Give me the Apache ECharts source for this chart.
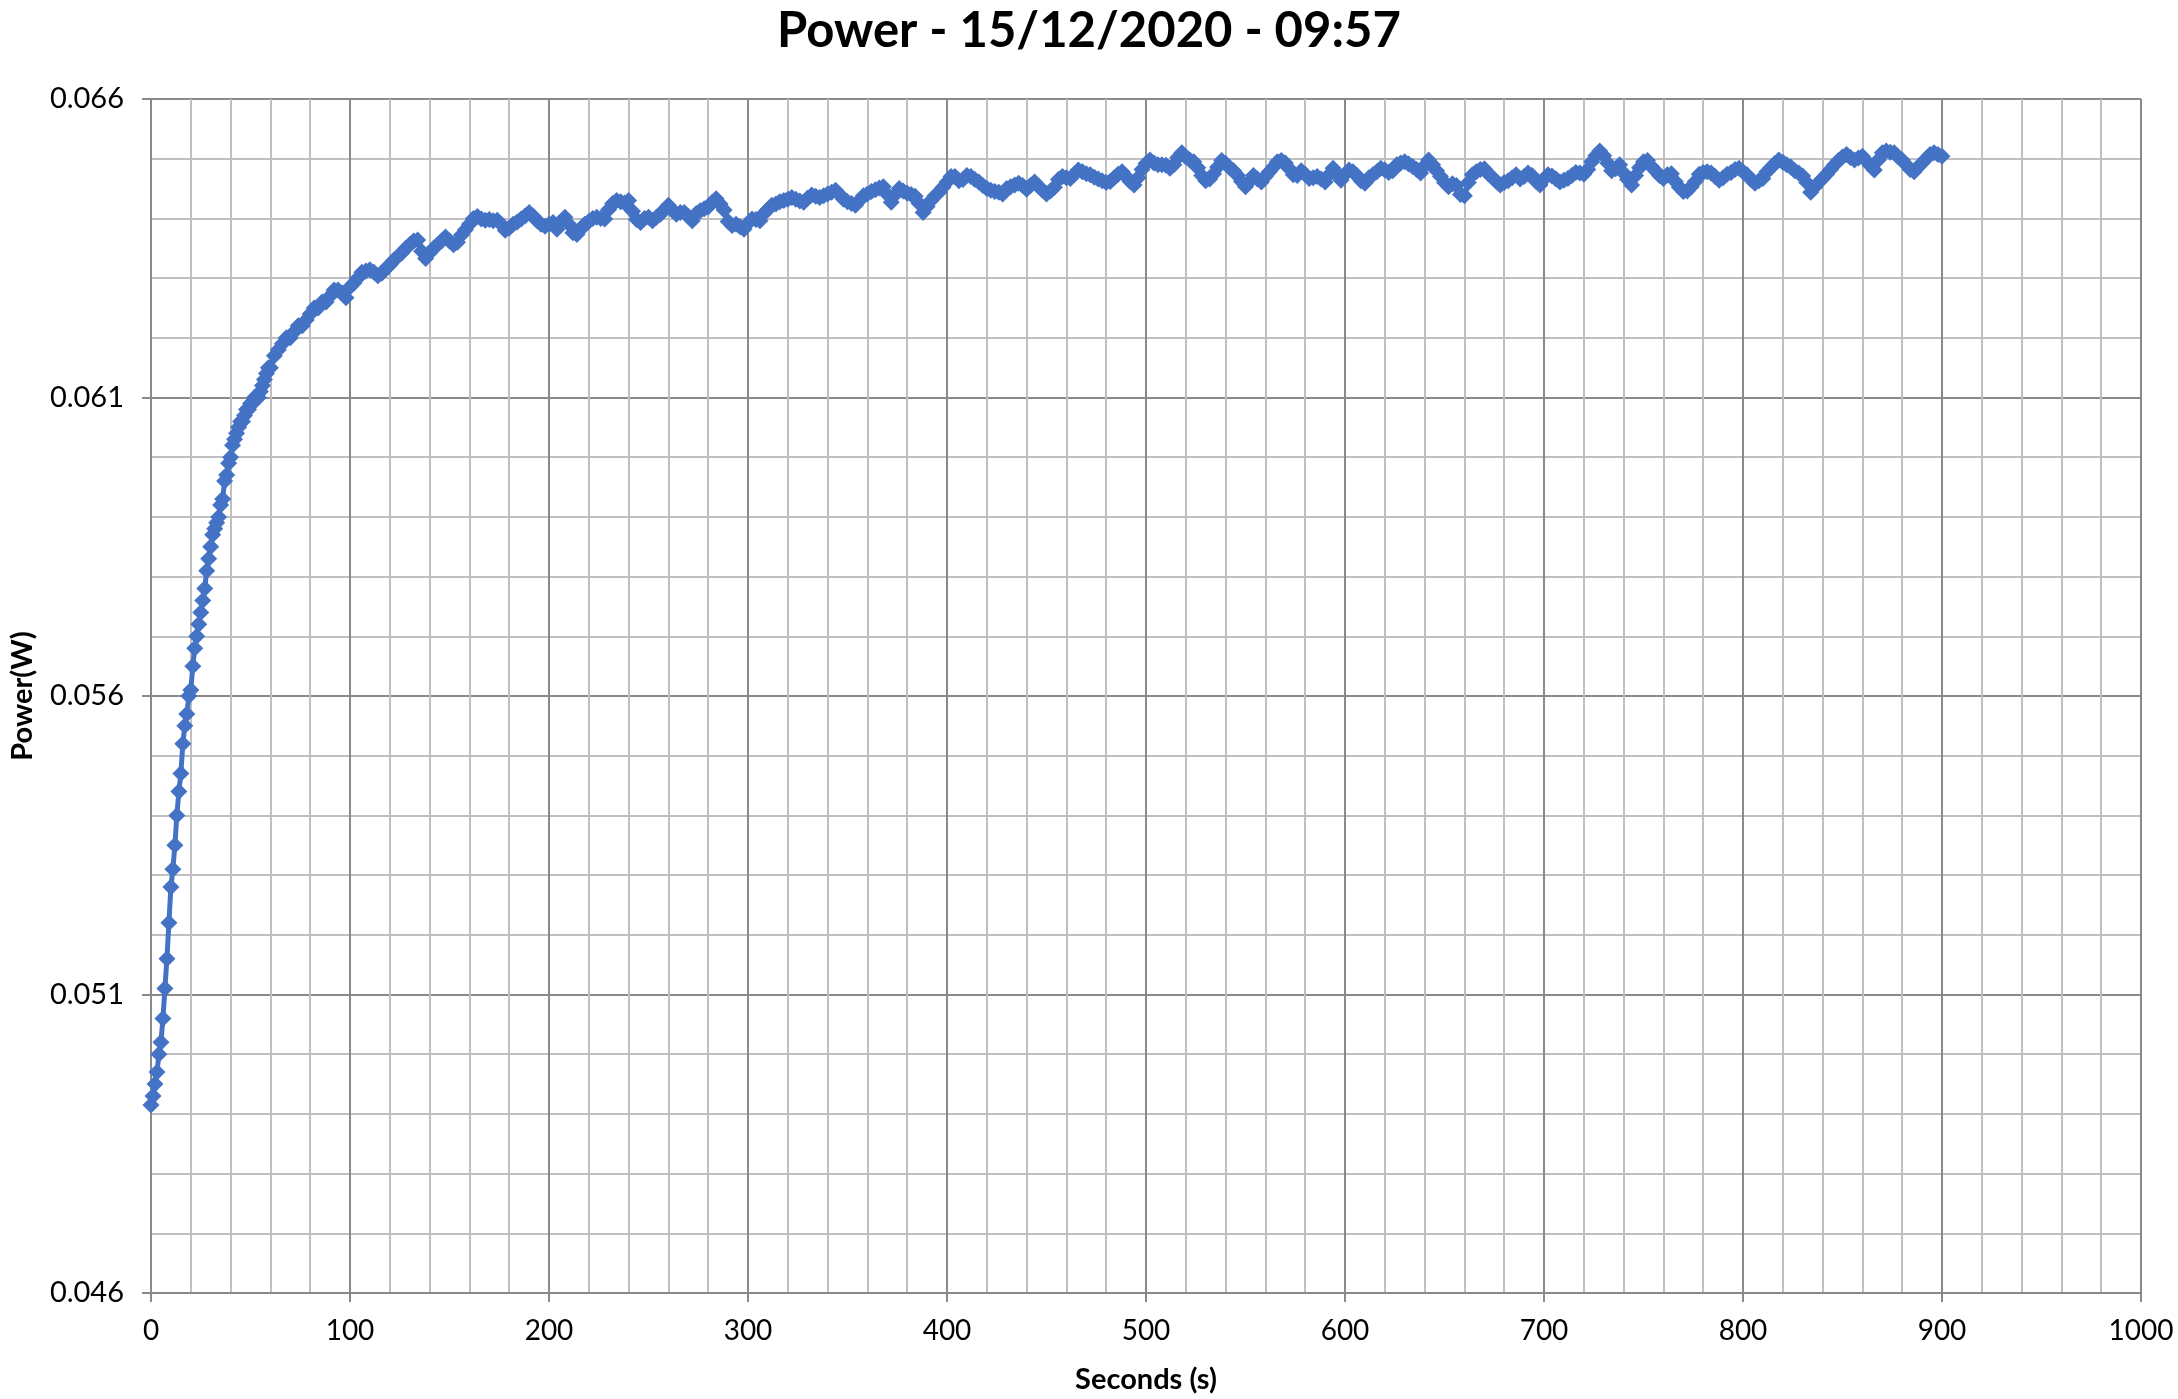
<!DOCTYPE html>
<html>
<head>
<meta charset="utf-8">
<script src="https://cdn.jsdelivr.net/npm/echarts@6/dist/echarts.min.js"></script>
<style>
html,body{margin:0;padding:0;background:#fff;}
#chart{width:2178px;height:1399px;}
</style>
</head>
<body>
<div id="chart"></div>
<script>
const titleText = "Power - 15/12/2020 - 09:57";
const xAxisName = "Seconds (s)";
const yAxisName = "Power(W)";
const xTicks = [0, 100, 200, 300, 400, 500, 600, 700, 800, 900, 1000];
const yTicks = [0.046, 0.051, 0.056, 0.061, 0.066];

// Samples 0..59 s, one per second
const powerFirstMinute = [
0.04915,0.0493,0.0495,0.0497,0.0500,0.0502,0.0506,0.0511,0.0516,0.0522,
0.0528,0.0531,0.0535,0.0540,0.0544,0.0547,0.0552,0.0555,0.0557,0.0560,
0.0561,0.0565,0.0568,0.0570,0.0572,0.0574,0.0576,0.0578,0.0581,0.0583,
0.0585,0.0587,0.0588,0.0589,0.0590,0.0592,0.0593,0.0596,0.0597,0.0599,
0.0600,0.0602,0.0603,0.0604,0.0605,0.0606,0.0606,0.0607,0.0608,0.0608,
0.0609,0.0609,0.0610,0.0610,0.0610,0.0611,0.0612,0.0613,0.0614,0.0615
];
// Samples 60..900 s, one every 2 s
const powerAfter = [
0.0615,0.0617,0.0618,0.0619,0.0620,0.0620,0.0621,0.0622,0.0622,0.0623,
0.0624,0.0625,0.0625,0.0626,0.0626,0.0627,0.0628,0.0628,0.06275,0.06267,
0.06285,0.06292,0.06300,0.06310,0.06312,0.06314,0.06310,0.06304,0.06308,0.06316,
0.06322,0.06330,0.06336,0.06342,0.06350,0.06356,0.06362,0.06364,0.06345,0.06333,
0.06342,0.06350,0.06356,0.06362,0.06369,0.06362,0.06356,0.06360,0.06372,0.06381,
0.06390,0.06400,0.06403,0.06399,0.06397,0.06398,0.06396,0.06397,0.06390,0.06380,
0.06384,0.06390,0.06394,0.06399,0.06404,0.06410,0.06404,0.06396,0.06390,0.06387,
0.06390,0.06393,0.06382,0.06395,0.06402,0.06390,0.06376,0.06373,0.06382,0.06390,
0.06395,0.06400,0.06402,0.06400,0.06399,0.06415,0.06425,0.06430,0.06428,0.06426,
0.06430,0.06412,0.06398,0.06393,0.06400,0.06402,0.06396,0.06402,0.06407,0.06415,
0.06422,0.06414,0.06407,0.06410,0.06410,0.06403,0.06396,0.06408,0.06413,0.06416,
0.06419,0.06427,0.06433,0.06424,0.06414,0.06395,0.06388,0.06390,0.06386,0.06382,
0.06392,0.06399,0.06398,0.06396,0.06408,0.06415,0.06422,0.06424,0.06428,0.06430,
0.06432,0.06435,0.06432,0.06429,0.06427,0.06434,0.06439,0.06437,0.06435,0.06438,
0.06441,0.06444,0.06447,0.06440,0.06432,0.06428,0.06425,0.06422,0.06430,0.06438,
0.06441,0.06445,0.06448,0.06451,0.06453,0.06440,0.06427,0.06440,0.06450,0.06446,
0.06442,0.06440,0.06437,0.06425,0.06410,0.06420,0.06430,0.06438,0.06444,0.06452,
0.06461,0.06470,0.06470,0.06463,0.06465,0.06472,0.06470,0.06465,0.06461,0.06455,
0.06450,0.06447,0.06445,0.06444,0.06441,0.06450,0.06453,0.06456,0.06459,0.06455,
0.06449,0.06455,0.06461,0.06454,0.06447,0.06441,0.06446,0.06452,0.06465,0.06470,
0.06468,0.06467,0.06474,0.06481,0.06478,0.06475,0.06473,0.06469,0.06466,0.06463,
0.06460,0.06462,0.06468,0.06474,0.06478,0.06470,0.06462,0.06456,0.06468,0.06482,
0.06492,0.06498,0.06493,0.06490,0.06490,0.06489,0.06484,0.06490,0.06502,0.06510,
0.06503,0.06498,0.06495,0.06485,0.06472,0.06463,0.06466,0.06475,0.06486,0.06497,
0.06492,0.06485,0.06480,0.06472,0.06462,0.06453,0.06462,0.06472,0.06466,0.06461,
0.06470,0.06478,0.06486,0.06495,0.06497,0.06493,0.06483,0.06473,0.06472,0.06480,
0.06474,0.06467,0.06468,0.06470,0.06466,0.06461,0.06473,0.06484,0.06474,0.06464,
0.06474,0.06481,0.06478,0.06472,0.06463,0.06459,0.06468,0.06473,0.06478,0.06484,
0.06481,0.06477,0.06480,0.06490,0.06493,0.06495,0.06491,0.06487,0.06482,0.06476,
0.06488,0.06498,0.06490,0.06480,0.06470,0.06460,0.06453,0.06458,0.06455,0.06440,
0.06438,0.06460,0.06473,0.06478,0.06482,0.06483,0.06475,0.06469,0.06462,0.06456,
0.06460,0.06463,0.06468,0.06473,0.06466,0.06470,0.06476,0.06472,0.06462,0.06456,
0.06466,0.06473,0.06471,0.06466,0.06461,0.06464,0.06467,0.06472,0.06477,0.06476,
0.06474,0.06482,0.06495,0.06505,0.06513,0.06505,0.06493,0.06480,0.06483,0.06490,
0.06476,0.06465,0.06456,0.06472,0.06485,0.06495,0.06497,0.06487,0.06480,0.06472,
0.06467,0.06473,0.06475,0.06462,0.06452,0.06445,0.06446,0.06453,0.06462,0.06474,
0.06477,0.06478,0.06476,0.06470,0.06464,0.06468,0.06474,0.06477,0.06482,0.06484,
0.06478,0.06473,0.06465,0.06459,0.06463,0.06467,0.06478,0.06485,0.06492,0.06498,
0.06494,0.06490,0.06486,0.06480,0.06476,0.06471,0.06460,0.06444,0.06452,0.06460,
0.06467,0.06474,0.06482,0.06490,0.06497,0.06503,0.06507,0.06502,0.06498,0.06501,
0.06504,0.06496,0.06488,0.06481,0.06498,0.06510,0.06513,0.06511,0.06510,0.06503,
0.06498,0.06490,0.06482,0.06478,0.06486,0.06493,0.06500,0.06507,0.06510,0.06507,
0.06504
];
const earlyStep = 1, earlyStart = 0;
const laterStep = 2, laterStart = 60;

const seriesData = [];
powerFirstMinute.forEach((v, i) => seriesData.push([earlyStart + i * earlyStep, v]));
powerAfter.forEach((v, i) => seriesData.push([laterStart + i * laterStep, v]));

const FONT = 'Lato, "Open Sans", sans-serif';
const MAJOR = '#8a8a8a';
const MINOR = '#bfbfbf';

const chart = echarts.init(document.getElementById('chart'), null, {renderer: 'canvas'});
chart.setOption({
  animation: false,
  backgroundColor: '#ffffff',
  title: {
    text: titleText,
    left: 'center',
    top: 2,
    textStyle: {fontFamily: FONT, fontSize: 49, fontWeight: 'bold', color: '#000'}
  },
  grid: {left: 145, top: 99, width: 1996, height: 1195, containLabel: false},
  xAxis: {
    type: 'value',
    min: xTicks[0], max: xTicks[xTicks.length - 1],
    interval: xTicks[1] - xTicks[0],
    name: xAxisName,
    nameLocation: 'middle',
    nameGap: 72,
    nameTextStyle: {fontFamily: FONT, fontSize: 29, fontWeight: 'bold', color: '#000'},
    axisLine: {show: true, lineStyle: {color: MAJOR, width: 2}},
    axisTick: {show: true, length: 9, lineStyle: {color: MAJOR, width: 2}},
    axisLabel: {fontFamily: FONT, fontSize: 28, color: '#000', margin: 24,
      formatter: v => String(v)},
    splitLine: {show: true, lineStyle: {color: MAJOR, width: 2}},
    minorTick: {show: false, splitNumber: 5},
    minorSplitLine: {show: true, lineStyle: {color: MINOR, width: 2}}
  },
  yAxis: {
    type: 'value',
    min: yTicks[0], max: yTicks[yTicks.length - 1],
    interval: 0.005,
    name: yAxisName,
    nameLocation: 'middle',
    nameGap: 114,
    nameRotate: 90,
    nameTextStyle: {fontFamily: FONT, fontSize: 29, fontWeight: 'bold', color: '#000'},
    axisLine: {show: true, lineStyle: {color: MAJOR, width: 2}},
    axisTick: {show: true, length: 9, lineStyle: {color: MAJOR, width: 2}},
    axisLabel: {fontFamily: FONT, fontSize: 29, color: '#000', margin: 27,
      formatter: v => v.toFixed(3)},
    splitLine: {show: true, lineStyle: {color: MAJOR, width: 2}},
    minorTick: {show: false, splitNumber: 5},
    minorSplitLine: {show: true, lineStyle: {color: MINOR, width: 2}}
  },
  series: [{
    type: 'line',
    data: seriesData,
    symbol: 'diamond',
    symbolSize: 17,
    showSymbol: true,
    lineStyle: {color: '#4472C4', width: 5},
    itemStyle: {color: '#4472C4', borderWidth: 0},
    z: 3
  }]
});
</script>
</body>
</html>
